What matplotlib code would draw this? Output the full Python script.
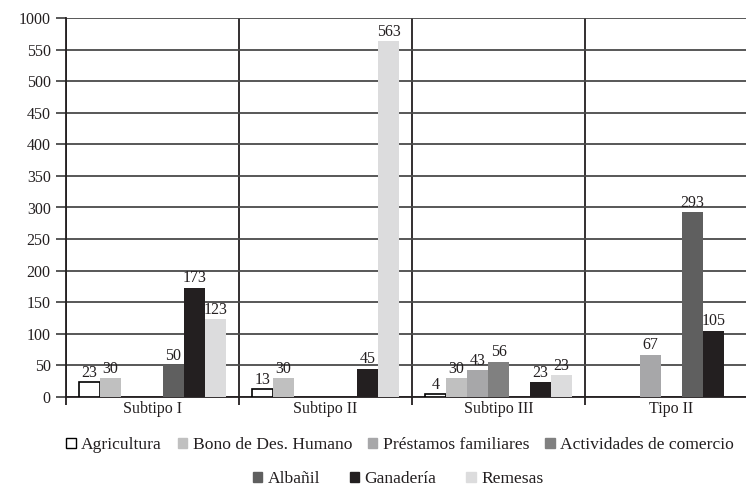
import matplotlib.pyplot as plt
import numpy as np

plt.rcParams['font.family'] = ['Liberation Serif', 'DejaVu Serif']

groups = ['Subtipo I', 'Subtipo II', 'Subtipo III', 'Tipo II']
series = ['Agricultura', 'Bono de Des. Humano', 'Préstamos familiares',
          'Actividades de comercio', 'Albañil', 'Ganadería', 'Remesas']
colors = ['white', '#c0c0c0', '#a7a7a9', '#808080', '#5f5f5f', '#231f20', '#dcdcdd']

# bar heights per series (None = no bar), one entry per group
agricultura = [23, 13, 4, None]
bono = [30, 30, 30, None]
prestamos = [None, None, 43, 67]
actividades = [None, None, 56, None]
albanil = [50, None, None, 293]
ganaderia = [173, 45, 23, 105]
remesas = [123, 563, 35, None]
# printed labels (the source labels one bar differently from its height)
remesas_labels = ['123', '563', '23', None]

values = [agricultura, bono, prestamos, actividades, albanil, ganaderia, remesas]

yticks = list(range(0, 601, 50))
ytick_labels = [str(t) for t in yticks[:-1]] + ['1000']

fig = plt.figure(figsize=(7.46, 4.86), dpi=100)
ax = fig.add_axes([66 / 746, 89 / 486, 692 / 746, 379 / 486])

width = 21 / 173
x = np.arange(len(groups))
handles = []
for i, (name, vals, col) in enumerate(zip(series, values, colors)):
    for g, v in enumerate(vals):
        if v is None:
            continue
        pos = x[g] + (i - 3) * width
        ax.bar(pos, v, width, color=col,
               edgecolor='black' if col == 'white' else col,
               linewidth=1.2 if col == 'white' else 0, zorder=3)
        lab = str(v)
        if vals is remesas:
            lab = remesas_labels[g]
        ax.text(pos, v + 2, lab, ha='center', va='bottom', fontsize=11.5,
                color='#231f20', zorder=4)
    handles.append(plt.Rectangle((0, 0), 1, 1, facecolor=col,
                                 edgecolor='black' if col == 'white' else col,
                                 linewidth=1.0))

ax.set_xlim(-0.5, 3.5)
ax.set_ylim(0, 600)
ax.set_yticks(yticks)
ax.set_yticklabels(ytick_labels, fontsize=11.5, color='#231f20')
ax.yaxis.grid(True, color='#4a4a4a', linewidth=1.3, zorder=0)

# group separators
ax.set_xticks(np.arange(-0.5, 4.0, 1.0))
ax.set_xticklabels([])
ax.xaxis.grid(True, color='#231f20', linewidth=1.3, zorder=1)
ax.set_xticks(x, minor=True)
ax.set_xticklabels(groups, minor=True, fontsize=11.5, color='#231f20')
ax.tick_params(axis='x', which='minor', length=0, pad=3)
ax.tick_params(axis='x', which='major', length=6, width=1.3, color='#231f20')
ax.tick_params(axis='y', length=7, width=1.3, color='#4a4a4a', pad=4)

for s in ['top', 'right']:
    ax.spines[s].set_visible(False)
ax.spines['left'].set_color('#231f20')
ax.spines['left'].set_linewidth(1.3)
ax.spines['bottom'].set_color('#231f20')
ax.spines['bottom'].set_linewidth(1.3)

fig.legend(handles[:4], series[:4], loc='center', ncol=4,
           bbox_to_anchor=(400 / 746, 1 - 445 / 486), frameon=False,
           fontsize=12.6, handlelength=0.55, handleheight=0.55,
           handletextpad=0.3, columnspacing=0.9, labelcolor='#231f20')
fig.legend(handles[4:], series[4:], loc='center', ncol=3,
           bbox_to_anchor=(398 / 746, 1 - 479 / 486), frameon=False,
           fontsize=12.6, handlelength=0.55, handleheight=0.55,
           handletextpad=0.3, columnspacing=1.7, labelcolor='#231f20')

fig.savefig('out.png', dpi=100)
